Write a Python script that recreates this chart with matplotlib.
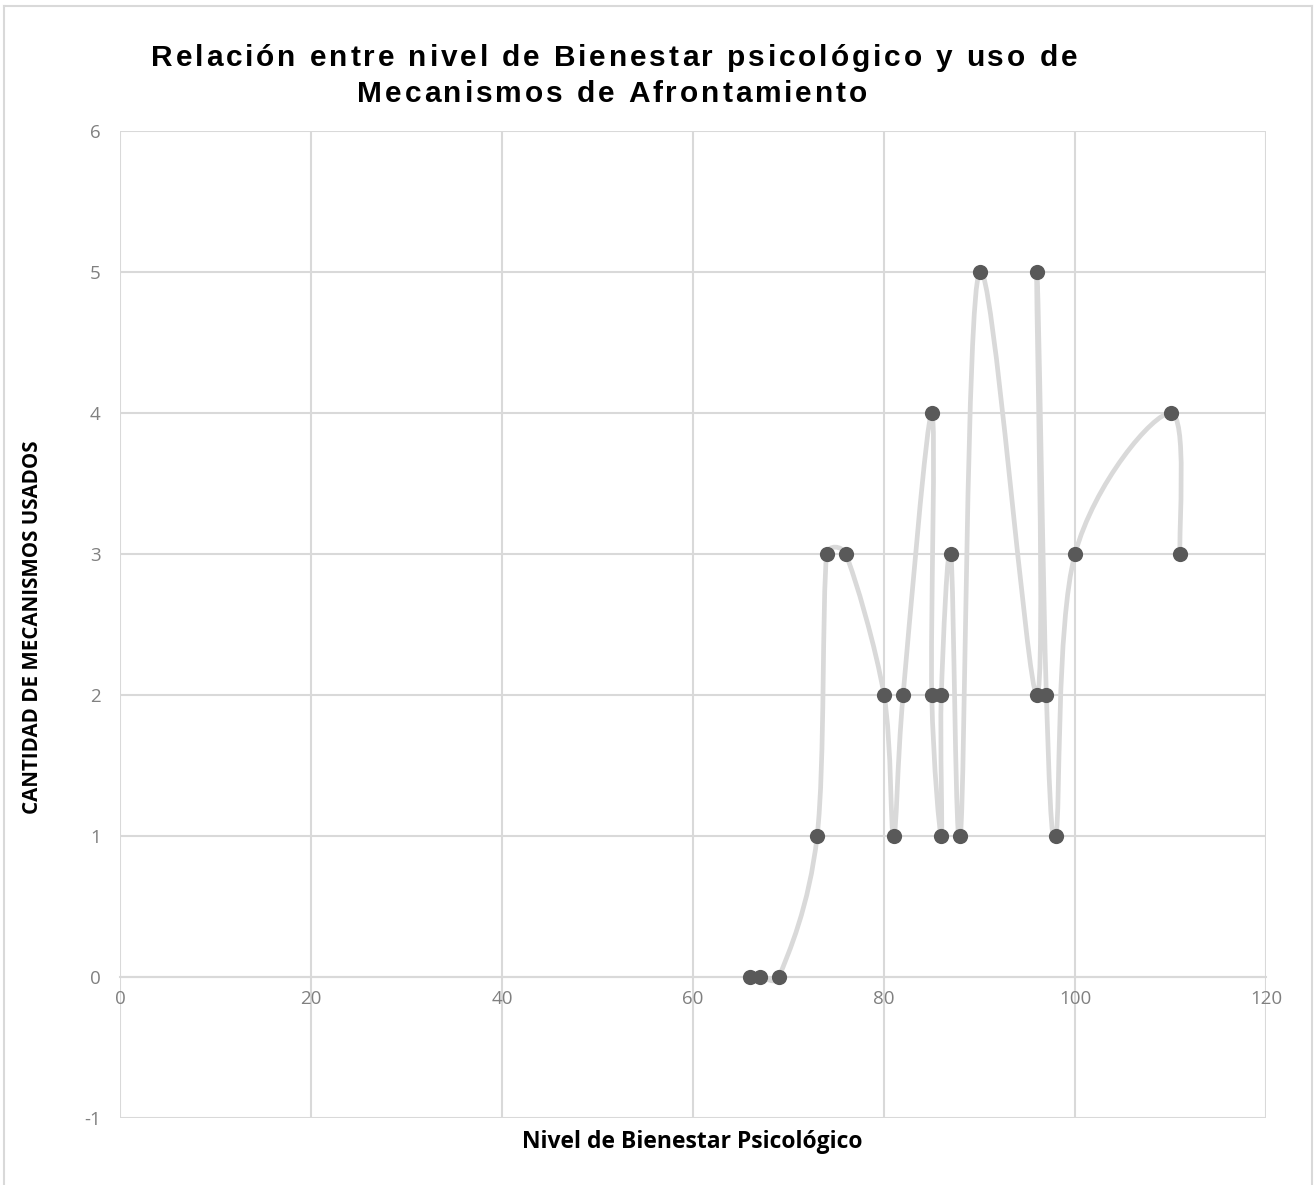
import matplotlib
matplotlib.use("Agg")
import matplotlib.pyplot as plt
from matplotlib.path import Path
from matplotlib.patches import PathPatch
from matplotlib.font_manager import FontProperties, findfont, get_font
import numpy as np

plt.rcParams["axes.unicode_minus"] = False

title_lines = ["Relación entre nivel de Bienestar psicológico y uso de",
               "Mecanismos de Afrontamiento"]
xlabel = "Nivel de Bienestar Psicológico"
ylabel = "CANTIDAD DE MECANISMOS USADOS"

bienestar = [66, 67, 69, 73, 74, 76, 80, 81, 82, 85, 85, 86, 86, 87, 88, 90, 96, 96, 97, 98, 100, 110, 111]
mecanismos = [0, 0, 0, 1, 3, 3, 2, 1, 2, 4, 2, 1, 2, 3, 1, 5, 2, 5, 2, 1, 3, 4, 3]

x_ticks = [0, 20, 40, 60, 80, 100, 120]
y_ticks = [-1, 0, 1, 2, 3, 4, 5, 6]
xlim = (0, 120)
ylim = (-1, 6)

W, H = 1316, 1185
AX_L, AX_R, AX_T, AX_B = 120, 1266, 131, 1118
fig = plt.figure(figsize=(W / 100, H / 100), dpi=100)
ax = fig.add_axes([AX_L / W, 1 - AX_B / H, (AX_R - AX_L) / W, (AX_B - AX_T) / H])

# smoothed line: bezier with spreadsheet-style control points (computed in pixel space)
sx = (AX_R - AX_L) / (xlim[1] - xlim[0])
sy = (AX_B - AX_T) / (ylim[1] - ylim[0])
pts = np.column_stack([np.array(bienestar, float) * sx, np.array(mecanismos, float) * sy])
n = len(pts)
verts = [pts[0]]
codes = [Path.MOVETO]
for i in range(n - 1):
    p0 = pts[i - 1] if i > 0 else pts[i]
    p1 = pts[i]
    p2 = pts[i + 1]
    p3 = pts[i + 2] if i + 2 < n else pts[i + 1]
    d12 = np.hypot(*(p2 - p1))
    d02 = np.hypot(*(p2 - p0))
    d13 = np.hypot(*(p3 - p1))
    f1 = 1 / 6 if d02 / 6 < d12 / 2 or d02 == 0 else d12 / (2 * d02)
    f2 = 1 / 6 if d13 / 6 < d12 / 2 or d13 == 0 else d12 / (2 * d13)
    c1 = p1 + (p2 - p0) * f1
    c2 = p2 - (p3 - p1) * f2
    verts += [c1, c2, p2]
    codes += [Path.CURVE4] * 3
verts = np.array(verts) / np.array([sx, sy])
ax.add_patch(PathPatch(Path(verts, codes), facecolor="none", edgecolor="#d9d9d9",
                       lw=3.4, capstyle="round", joinstyle="round", zorder=3))
ax.scatter(bienestar, mecanismos, s=120, color="#595959", zorder=4, linewidths=0)

ax.set_xlim(*xlim)
ax.set_ylim(*ylim)
ax.set_xticks(x_ticks)
ax.set_yticks(y_ticks)
ax.grid(True, color="#d9d9d9", lw=1.5)
ax.set_axisbelow(True)
for s in ["top", "right", "left"]:
    ax.spines[s].set_visible(False)
ax.spines["bottom"].set_position(("data", 0))
ax.spines["bottom"].set_color("#d9d9d9")
ax.spines["bottom"].set_linewidth(1.5)
ax.tick_params(length=0, labelsize=13.5, colors="#808080")
ax.tick_params(axis="x", pad=9)
ax.tick_params(axis="y", pad=14)
for lab in ax.get_xticklabels() + ax.get_yticklabels():
    lab.set_family("Open Sans")

# title with letter spacing
tsize = 21.5
fp = FontProperties(family="Liberation Sans", weight="bold", size=tsize)
font = get_font(findfont(fp))
font.set_size(tsize, 100)


def adv(c):
    g = font.load_char(ord(c))
    return g.linearHoriAdvance / 65536.0


line1_w = 926.0
widths = [[adv(c) for c in ln] for ln in title_lines]
spacing = (line1_w - sum(widths[0])) / (len(title_lines[0]) - 1)
centers = [614, 612]
baselines = [66, 102]
for ln, ws, cx, by in zip(title_lines, widths, centers, baselines):
    total = sum(ws) + spacing * (len(ln) - 1)
    x = cx - total / 2
    for c, w in zip(ln, ws):
        if c != " ":
            fig.text(x / W, 1 - by / H, c, ha="left", va="baseline", fontproperties=fp)
        x += w + spacing

fig.text(692 / W, 1 - 1148 / H, xlabel, ha="center", va="baseline", fontsize=16.5,
         fontweight="bold", family="Open Sans")
fig.text(33 / W, 1 - 627 / H, ylabel, ha="center", va="center", fontsize=14.8,
         fontweight="bold", family="Open Sans", rotation=90)

# chart frame
for xs, ys in [([4, 4], [6, H + 5]), ([4, 1312], [6, 6]), ([1312, 1312], [6, H + 5])]:
    fig.add_artist(plt.Line2D([x / W for x in xs], [1 - y / H for y in ys],
                              color="#d9d9d9", lw=1.5))

fig.savefig("out.png", dpi=100)
